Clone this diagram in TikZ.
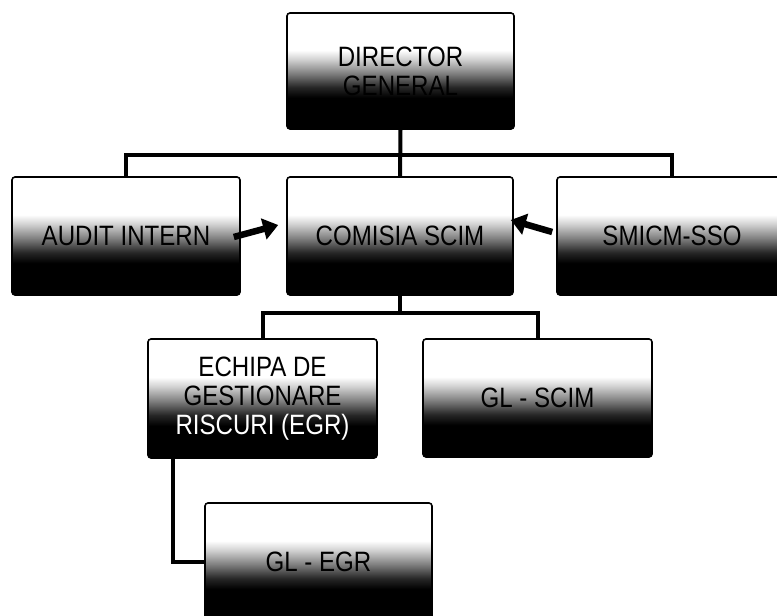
\documentclass[tikz,border=0pt]{standalone}
\usepackage{fontspec}
\setmainfont{Liberation Sans}[FakeStretch=0.86]
\usetikzlibrary{arrows.meta}
\pgfdeclareverticalshading{boxshade}{100bp}{color(0bp)=(black); color(38.5bp)=(black); color(43bp)=(black!85); color(49bp)=(black!50); color(55bp)=(black!18); color(59bp)=(white); color(100bp)=(white)}
\begin{document}
\begin{tikzpicture}[x=1pt,y=-1pt,
  orgbox/.style={draw=black, line width=1.6pt, rounded corners=3pt, shading=boxshade,
    align=center, inner sep=0pt, minimum width=228pt, minimum height=118pt,
    font=\fontsize{28}{29}\selectfont},
  conn/.style={draw=black, line width=4pt},
  arr/.style={draw=black, line width=6.5pt, -{Triangle[length=15pt,width=21pt]}}]
\useasboundingbox (0,0) rectangle (777,616);
\node[orgbox, minimum width=227pt, minimum height=116pt] (dir) at (400.5,71) {DIRECTOR\\GENERAL};
\node[orgbox] (audit) at (126,236) {AUDIT INTERN};
\node[orgbox, minimum width=226pt] (comisia) at (400,236) {COMISIA SCIM};
\node[orgbox, minimum width=230pt] (smicm) at (672,236) {SMICM-SSO};
\node[orgbox, minimum width=229pt, minimum height=119pt] (echipa) at (262.5,398.5) {ECHIPA DE\\GESTIONARE\\\textcolor{white}{RISCURI (EGR)}};
\node[orgbox, minimum width=229pt] (glscim) at (537.5,398) {GL - SCIM};
\node[orgbox, minimum width=227pt] (glegr) at (318.5,562) {GL - EGR};
% connectors
\draw[conn] (dir.south) -- (comisia.north);
\draw[conn] (audit.north) -- ++(0,-21) -| (smicm.north);
\draw[conn] (comisia.south) -- ++(0,19);
\draw[conn] (echipa.north) -- ++(0,-25) -| (glscim.north);
\draw[conn] ([xshift=-90pt]echipa.south) |- (glegr.west);
% arrows
\draw[arr] ([xshift=-7pt,yshift=-1pt]audit.east) -- ([xshift=-8pt,yshift=11pt]comisia.west);
\draw[arr] ([xshift=-4pt,yshift=4pt]smicm.west) -- ([xshift=-3pt,yshift=16pt]comisia.east);
\end{tikzpicture}
\end{document}
